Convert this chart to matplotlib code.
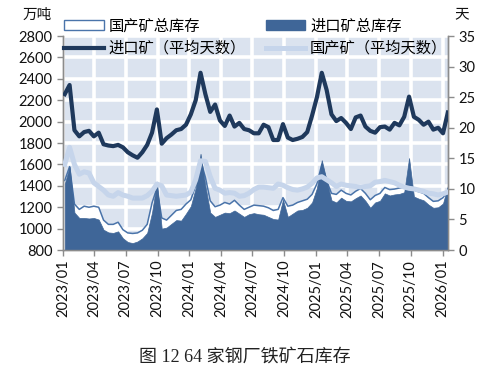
import matplotlib
matplotlib.use("Agg")
import matplotlib.pyplot as plt
import matplotlib.dates as mdates
from matplotlib.patches import Patch
from matplotlib.lines import Line2D
import pandas as pd

# ---------------- data (biweekly readings) ----------------
dates = pd.date_range("2023-01-06", periods=80, freq="14D")

domestic_total = [1450, 1580, 1230, 1180, 1210, 1200, 1210, 1200, 1080, 1040,
                  1040, 1060, 990, 960, 955, 960, 985, 1040, 1240, 1380,
                  1100, 1080, 1125, 1170, 1180, 1230, 1270, 1400, 1640, 1480,
                  1260, 1205, 1220, 1245, 1230, 1265, 1220, 1180, 1200, 1220,
                  1215, 1210, 1195, 1170, 1180, 1290, 1210, 1220, 1245, 1260,
                  1275, 1320, 1420, 1600, 1450, 1330, 1320, 1360, 1330, 1315,
                  1350, 1375, 1330, 1270, 1310, 1330, 1385, 1365, 1370, 1380,
                  1385, 1380, 1360, 1345, 1330, 1290, 1255, 1260, 1290, 1350]

import_total = [1420, 1580, 1150, 1100, 1100, 1095, 1100, 1085, 990, 965,
                960, 975, 910, 875, 865, 880, 910, 960, 1150, 1440,
                1000, 1010, 1045, 1080, 1075, 1140, 1210, 1380, 1700, 1400,
                1150, 1110, 1130, 1150, 1145, 1170, 1140, 1110, 1135, 1145,
                1135, 1130, 1110, 1090, 1085, 1270, 1110, 1140, 1170, 1175,
                1195, 1245, 1380, 1640, 1450, 1265, 1245, 1290, 1260, 1255,
                1285, 1310, 1260, 1195, 1245, 1260, 1330, 1310, 1320, 1325,
                1340, 1660, 1300, 1280, 1265, 1225, 1195, 1200, 1235, 1400]

import_days = [25.5, 27.0, 19.6, 18.6, 19.3, 19.5, 18.6, 19.2, 17.3, 17.1,
               17.0, 17.2, 16.8, 16.0, 15.5, 15.1, 16.0, 17.2, 19.2, 23.0,
               17.4, 18.3, 18.9, 19.6, 19.8, 20.5, 22.2, 24.5, 29.0, 25.5,
               22.6, 23.8, 21.2, 20.3, 22.0, 20.2, 20.8, 19.8, 19.6, 19.1,
               19.1, 20.5, 20.1, 18.0, 18.0, 20.6, 18.4, 18.0, 18.2, 18.5,
               19.3, 22.0, 25.0, 29.0, 26.2, 22.2, 21.1, 21.6, 20.8, 19.8,
               21.7, 22.0, 20.2, 19.5, 19.2, 20.1, 20.2, 19.7, 20.8, 20.4,
               21.8, 25.1, 21.8, 21.3, 20.5, 21.0, 19.7, 20.0, 19.1, 22.5]

domestic_days = [14.0, 16.8, 14.0, 12.4, 12.8, 12.6, 11.0, 10.4, 9.8, 9.0,
                 8.8, 9.4, 9.0, 8.8, 8.5, 8.5, 8.5, 8.9, 9.6, 10.8,
                 10.5, 9.0, 8.9, 8.8, 8.9, 9.0, 9.5, 11.5, 14.6, 14.5,
                 12.0, 10.1, 9.8, 9.3, 9.4, 9.3, 8.8, 8.9, 9.3, 9.9,
                 10.3, 10.3, 10.2, 10.1, 10.8, 10.6, 10.2, 9.9, 9.8, 10.0,
                 10.3, 10.9, 11.8, 12.0, 11.5, 11.0, 10.4, 10.8, 10.6, 10.5,
                 10.4, 10.3, 10.4, 10.5, 11.1, 11.2, 11.4, 11.2, 11.0, 10.6,
                 10.3, 10.1, 10.0, 9.8, 9.6, 9.3, 9.2, 9.0, 9.2, 9.5]

labels = ["国产矿总库存", "进口矿总库存", "进口矿（平均天数）", "国产矿（平均天数）"]
title = "图 12 64 家钢厂铁矿石库存"

# ---------------- style ----------------
CJK = ["Noto Sans CJK SC", "DejaVu Sans"]
TICKF = ["Lato", "DejaVu Sans"]
c_bg = "#dbe3ef"
c_dark_fill = "#3f6698"
c_outline = "#4a74aa"
c_dark_line = "#1f395c"
c_light_line = "#c6d5eb"
c_axis = "#8c8c8c"

fig = plt.figure(figsize=(4.9, 3.8), dpi=100)
ax = fig.add_axes([0.1286, 0.342, 0.7854, 0.563])
ax2 = ax.twinx()

ax.set_facecolor(c_bg)
ax.set_axisbelow(True)
ax.grid(True, color="white", linewidth=2.6)

ax.fill_between(dates, 800, domestic_total, facecolor="white",
                edgecolor="none", zorder=2)
ax.plot(dates, domestic_total, color=c_outline, linewidth=1.1, zorder=2.5)
ax.fill_between(dates, 800, import_total, facecolor=c_dark_fill,
                edgecolor=c_dark_fill, linewidth=0.5, zorder=3)

ax2.plot(dates, domestic_days, color=c_light_line, linewidth=3.6,
         solid_joinstyle="round", zorder=3)
ax2.plot(dates, import_days, color=c_dark_line, linewidth=3.0,
         solid_joinstyle="round", zorder=4)

ax.set_ylim(800, 2800)
ax.set_yticks(range(800, 2801, 200))
ax2.set_ylim(0, 35)
ax2.set_yticks(range(0, 36, 5))
ax.set_xlim(pd.Timestamp("2023-01-01"), dates[-1])

ax.xaxis.set_major_locator(mdates.MonthLocator(bymonth=[1, 4, 7, 10]))
ax.xaxis.set_major_formatter(mdates.DateFormatter("%Y/%m"))

for a in (ax, ax2):
    for s in a.spines.values():
        s.set_color(c_axis)
        s.set_linewidth(1.0)
    a.spines["top"].set_visible(False)
    a.tick_params(colors=c_axis, length=4, width=1.0, labelcolor="#111111",
                  labelsize=10.5)
ax.tick_params(axis="x", rotation=90, pad=3)
for lab in ax.get_xticklabels() + ax.get_yticklabels() + ax2.get_yticklabels():
    lab.set_family(TICKF)

fig.text(0.045, 0.962, "万吨", family=CJK, fontsize=10.5, color="#111111",
         va="center")
fig.text(0.928, 0.962, "天", family=CJK, fontsize=10.5, color="#111111",
         va="center")

handles = [Patch(facecolor="white", edgecolor=c_outline, linewidth=1.0),
           Line2D([], [], color=c_dark_line, linewidth=3.0),
           Patch(facecolor=c_dark_fill, edgecolor=c_dark_fill),
           Line2D([], [], color=c_light_line, linewidth=3.6)]
hlabels = [labels[0], labels[2], labels[1], labels[3]]
fig.legend(handles, hlabels, loc="upper left", bbox_to_anchor=(0.103, 0.99),
           ncol=2, frameon=False, prop={"family": CJK, "size": 11},
           handlelength=2.6, handleheight=0.6, handletextpad=0.3,
           columnspacing=1.3, labelspacing=0.35)

fig.text(0.5, 0.06, title, family=["Liberation Serif", "Noto Sans CJK SC"],
         fontsize=13, color="#222222", ha="center", va="center")

fig.savefig("out.png", dpi=100)
